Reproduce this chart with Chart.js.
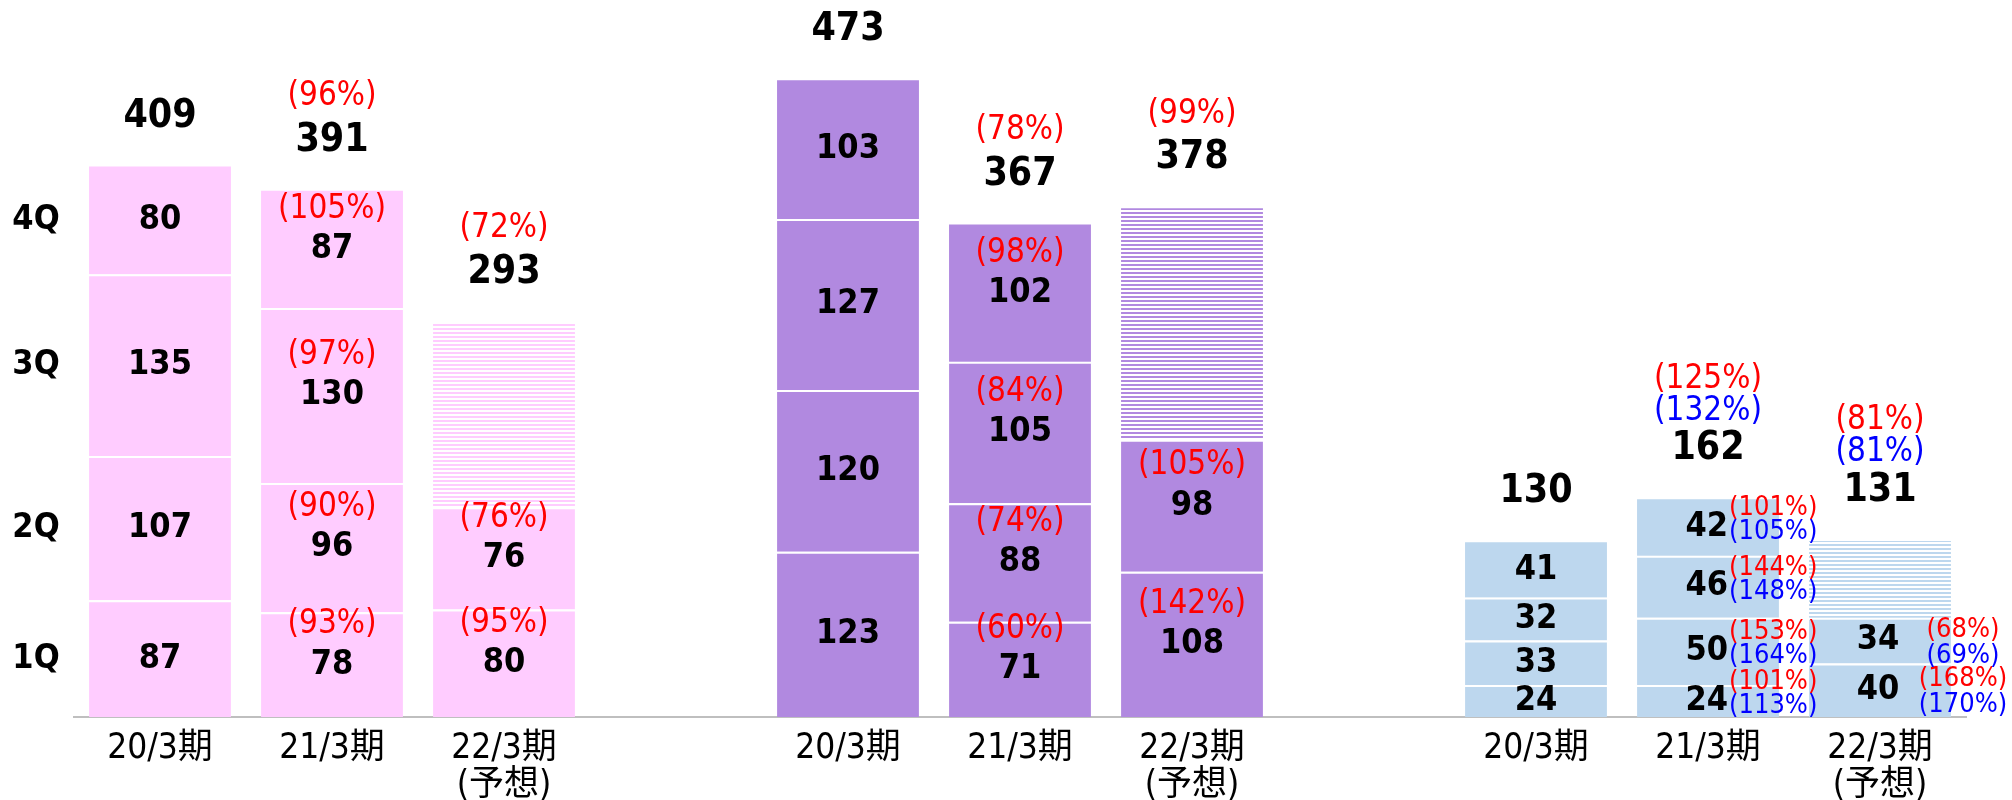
<!DOCTYPE html>
<html>
<head>
<meta charset="utf-8">
<script src="https://cdn.jsdelivr.net/npm/chart.js@4/dist/chart.umd.min.js"></script>
<style>
  html, body { margin: 0; padding: 0; background: #fff; overflow: hidden; }
</style>
</head>
<body>
<canvas id="quarterChart" width="2012" height="800"></canvas>
<script>
// categories, empty ones keep the gap between the three groups
const categories = ['20/3期', '21/3期', ['22/3期', '(予想)'], '',
                    '20/3期', '21/3期', ['22/3期', '(予想)'], '',
                    '20/3期', '21/3期', ['22/3期', '(予想)']];
const quarterNames = ['1Q', '2Q', '3Q', '4Q'];

const q1 = [87, 78, 80, null, 123, 71, 108, null, 24, 24, 40];
const q2 = [107, 96, 76, null, 120, 88, 98, null, 33, 50, 34];
const q3 = [135, 130, null, null, 127, 105, null, null, 32, 46, null];
const q4 = [80, 87, null, null, 103, 102, null, null, 41, 42, null];
const forecastRest = [null, null, 137, null, null, null, 172, null, null, null, 57];
const totals = [409, 391, 293, null, 473, 367, 378, null, 130, 162, 131];

// red and blue ratios, in %
const q1Red = [null, 93, 95, null, null, 60, 142, null, null, 101, 168];
const q2Red = [null, 90, 76, null, null, 74, 105, null, null, 153, 68];
const q3Red = [null, 97, null, null, null, 84, null, null, null, 144, null];
const q4Red = [null, 105, null, null, null, 98, null, null, null, 101, null];
const totalRed = [null, 96, 72, null, null, 78, 99, null, null, 125, 81];
const q1Blue = [null, null, null, null, null, null, null, null, null, 113, 170];
const q2Blue = [null, null, null, null, null, null, null, null, null, 164, 69];
const q3Blue = [null, null, null, null, null, null, null, null, null, 148, null];
const q4Blue = [null, null, null, null, null, null, null, null, null, 105, null];
const totalBlue = [null, null, null, null, null, null, null, null, null, 132, 81];

const quarterValues = [q1, q2, q3, q4];
const quarterRed = [q1Red, q2Red, q3Red, q4Red];
const quarterBlue = [q1Blue, q2Blue, q3Blue, q4Blue];

const PINK = '#FFCCFF', PURPLE = '#B189E0', BLUE = '#BDD7EE';
const barColors = [PINK, PINK, PINK, null, PURPLE, PURPLE, PURPLE, null, BLUE, BLUE, BLUE];
// how the labels sit in each column
const labelMode = ['plain', 'stack', 'stack', '', 'plain', 'stack', 'stack', '', 'plain', 'side', 'right'];

const FONT = '"DejaVu Sans Condensed", "DejaVu Sans", "Noto Sans CJK JP", sans-serif';

function stripes(color) {
    const c = document.createElement('canvas');
    c.width = 8; c.height = 4;
    const g = c.getContext('2d');
    g.fillStyle = '#fff';
    g.fillRect(0, 0, 8, 4);
    g.fillStyle = color;
    g.fillRect(0, 0, 8, 2);
    return g.createPattern(c, 'repeat');
}
const stripeFor = { [PINK]: stripes(PINK), [PURPLE]: stripes(PURPLE), [BLUE]: stripes(BLUE) };

const allSeries = [q1, q2, q3, q4, forecastRest];

function hasAbove(d, i) {
    for (let k = d + 1; k < allSeries.length; k++) {
        if (allSeries[k][i] != null) return true;
    }
    return false;
}

function makeDataset(values, d, hatched) {
    return {
        label: d < 4 ? quarterNames[d] : '予想',
        data: values,
        backgroundColor: c => hatched ? stripeFor[barColors[c.dataIndex]] : barColors[c.dataIndex],
        borderColor: '#ffffff',
        borderWidth: c => ({ top: hasAbove(d, c.dataIndex) ? 2 : 0, left: 0, right: 0, bottom: 0 }),
        borderSkipped: false,
        barPercentage: 0.825,
        categoryPercentage: 1,
        stack: 'all'
    };
}

const pct = v => '(' + v + '%)';

function text(ctx, str, x, y, font, color, align) {
    ctx.font = font;
    ctx.fillStyle = color;
    ctx.textAlign = align || 'center';
    ctx.fillText(str, x, y);
}

const labelPlugin = {
    id: 'barLabels',
    afterDatasetsDraw(chart) {
        const ctx = chart.ctx;
        ctx.save();
        ctx.textBaseline = 'middle';
        const valueFont = 'bold 34px ' + FONT;
        const totalFont = 'bold 39px ' + FONT;
        const pctFont = '33px ' + FONT;
        const smallPct = '27px ' + FONT;

        categories.forEach((cat, i) => {
            const mode = labelMode[i];
            if (!mode) return;
            let top = Infinity;
            allSeries.forEach((s, d) => {
                if (s[i] == null) return;
                const bar = chart.getDatasetMeta(d).data[i];
                top = Math.min(top, bar.y);
                if (d > 3) return;
                const cy = (bar.y + bar.base) / 2;
                const red = quarterRed[d][i], blue = quarterBlue[d][i];
                if (mode === 'side') {
                    text(ctx, String(s[i]), bar.x + 20, cy, valueFont, '#000', 'right');
                    text(ctx, pct(red), bar.x + 21, cy - 19, smallPct, '#FF0000', 'left');
                    text(ctx, pct(blue), bar.x + 21, cy + 5, smallPct, '#0000FF', 'left');
                } else if (mode === 'right') {
                    text(ctx, String(s[i]), bar.x - 2, cy, valueFont, '#000');
                    text(ctx, pct(red), bar.x + 83, cy - 11, smallPct, '#FF0000');
                    text(ctx, pct(blue), bar.x + 83, cy + 15, smallPct, '#0000FF');
                } else {
                    text(ctx, String(s[i]), bar.x, cy, valueFont, '#000');
                    if (red != null) text(ctx, pct(red), bar.x, cy - 40, pctFont, '#FF0000');
                }
            });
            const x = chart.getDatasetMeta(0).data[i].x;
            const ty = top - 50;
            text(ctx, String(totals[i]), x, ty, totalFont, '#000');
            if (totalBlue[i] != null) {
                text(ctx, pct(totalBlue[i]), x, ty - 38, pctFont, '#0000FF');
                text(ctx, pct(totalRed[i]), x, ty - 70, pctFont, '#FF0000');
            } else if (totalRed[i] != null) {
                text(ctx, pct(totalRed[i]), x, ty - 44, pctFont, '#FF0000');
            }
        });

        // quarter names beside the first column
        quarterNames.forEach((q, d) => {
            const bar = chart.getDatasetMeta(d).data[0];
            text(ctx, q, 36, (bar.y + bar.base) / 2, 'bold 34px ' + FONT, '#000');
        });
        ctx.restore();
    }
};

const chart = new Chart(document.getElementById('quarterChart'), {
    type: 'bar',
    data: {
        labels: categories,
        datasets: [
            makeDataset(q1, 0, false),
            makeDataset(q2, 1, false),
            makeDataset(q3, 2, false),
            makeDataset(q4, 3, false),
            makeDataset(forecastRest, 4, true)
        ]
    },
    options: {
        responsive: false,
        devicePixelRatio: 1,
        animation: false,
        layout: { padding: { left: 74, right: 46, top: 17, bottom: -18 } },
        plugins: {
            legend: { display: false },
            tooltip: { enabled: false },
            title: { display: false }
        },
        scales: {
            x: {
                stacked: true,
                grid: { display: false, drawTicks: false },
                border: { display: true, color: '#BFBFBF', width: 2 },
                ticks: {
                    color: '#000',
                    padding: 13.6,
                    maxRotation: 0,
                    autoSkip: false,
                    font: { family: FONT, size: 35, lineHeight: 1.05 }
                }
            },
            y: {
                stacked: true,
                display: false,
                min: 0,
                max: 520
            }
        }
    },
    plugins: [labelPlugin]
});
</script>
</body>
</html>
